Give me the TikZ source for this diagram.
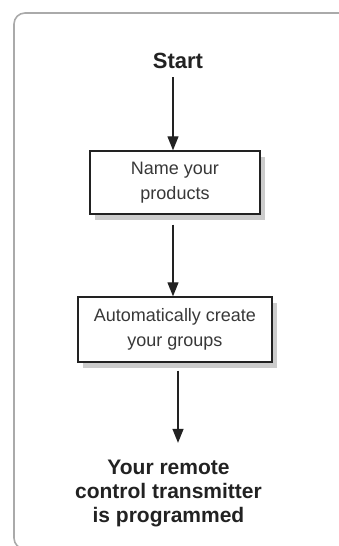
\documentclass[tikz,border=0pt]{standalone}
\usepackage{fontspec}
\setmainfont{Liberation Sans}
\usetikzlibrary{arrows.meta,shadows}
\definecolor{framegray}{HTML}{AAAAAA}
\definecolor{inkdark}{HTML}{222222}
\definecolor{shadowgray}{HTML}{CCCCCC}
\tikzset{
  frameline/.style={draw=framegray, line width=1.6pt, rounded corners=11pt},
  stepbox/.style={draw=inkdark, line width=1.4pt, fill=white, text=inkdark!90,
    align=center, inner sep=0pt, font=\fontsize{18}{24.5}\selectfont,
    drop shadow={shadow xshift=5pt, shadow yshift=-6pt, fill=shadowgray, opacity=1}},
  endtext/.style={align=center, inner sep=0pt, text=inkdark, font=\bfseries\fontsize{21}{24}\selectfont},
  flowarrow/.style={draw=inkdark, line width=1.3pt, -{Triangle[length=14pt,width=11pt]}}
}
\begin{document}
\begin{tikzpicture}[x=1pt,y=-1pt]
\useasboundingbox (0,0) rectangle (339,546);
\coordinate (ftr) at (339,13);
\coordinate (ftl) at (14,13);
\coordinate (fbl) at (14,549);
\coordinate (fbr) at (34,549);
\draw[frameline] (ftr) -- (ftl) -- (fbl) -- (fbr);
\node[endtext, anchor=base, font=\bfseries\fontsize{22}{24}\selectfont] (start) at (178,68) {Start};
\node[stepbox, minimum width=170pt, minimum height=63pt] (b1) at (175,182.5) {Name your\\products};
\node[stepbox, minimum width=194pt, minimum height=65pt] (b2) at (175,329.5) {Automatically create\\your groups};
\node[endtext] (finish) at (168.5,493.5) {Your remote\\control transmitter\\is programmed};
\draw[flowarrow] ([xshift=-5pt,yshift=-9pt]start.south) -- ([xshift=-2pt]b1.north);
\draw[flowarrow] ([xshift=-2pt,yshift=-10pt]b1.south) -- ([xshift=-2pt]b2.north);
\draw[flowarrow] ([xshift=3pt,yshift=-8pt]b2.south) -- ([xshift=9.5pt,yshift=17pt]finish.north);
\end{tikzpicture}
\end{document}
